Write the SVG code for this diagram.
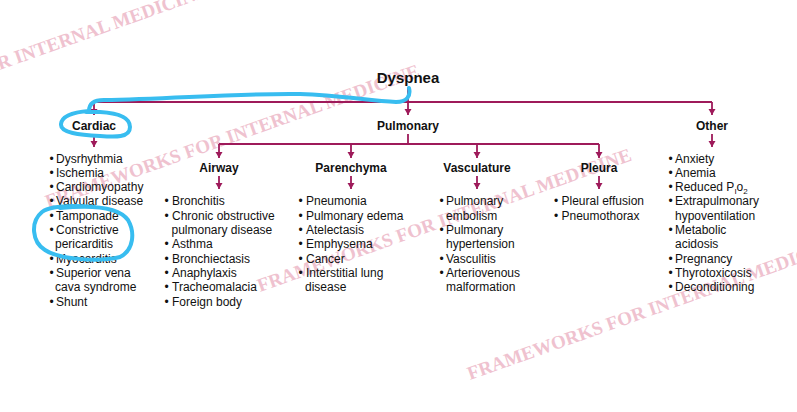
<svg xmlns="http://www.w3.org/2000/svg" width="797" height="412" viewBox="0 0 797 412">
<style>
.wm{font-family:"Liberation Serif","Times New Roman",serif;font-weight:bold;font-size:19px;fill:#efc2cf}
.ln{fill:none;stroke:#9e1a5a;stroke-width:1.8}
.ar{fill:none;stroke:#9e1a5a;stroke-width:1.8;marker-end:url(#arr)}
.t{font-family:"Liberation Sans",Arial,sans-serif;font-size:12px;fill:#111}
.h{font-family:"Liberation Sans",Arial,sans-serif;font-size:12px;font-weight:bold;fill:#111;text-anchor:middle}
.ttl{font-family:"Liberation Sans",Arial,sans-serif;font-size:15px;font-weight:bold;fill:#111;text-anchor:middle}
.hl{fill:none;stroke:#38bdf0;stroke-width:4;stroke-linecap:round;stroke-linejoin:round}
</style>
<defs>
<marker id="arr" markerUnits="userSpaceOnUse" markerWidth="7" markerHeight="8" refX="6" refY="3.5" orient="auto">
<path d="M0,0 L6,3.5 L0,7 z" fill="#9e1a5a"/>
</marker>
</defs>
<rect width="797" height="412" fill="#fff"/>
<g id="watermark">
<text class="wm" x="-164" y="128" transform="rotate(-19.5 -164 128)">FRAMEWORKS FOR INTERNAL MEDICINE</text>
<text class="wm" x="48" y="208" transform="rotate(-19.5 48 208)">FRAMEWORKS FOR INTERNAL MEDICINE</text>
<text class="wm" x="260" y="292" transform="rotate(-19.5 260 292)">FRAMEWORKS FOR INTERNAL MEDICINE</text>
<text class="wm" x="470" y="380" transform="rotate(-19.5 470 380)">FRAMEWORKS FOR INTERNAL MEDICINE</text>
</g>
<g id="connectors">
<line class="ln" x1="408" y1="88" x2="408" y2="102"/>
<line class="ln" x1="94" y1="102" x2="712" y2="102"/>
<line class="ar" x1="94" y1="102" x2="94" y2="115"/>
<line class="ar" x1="408" y1="102" x2="408" y2="115"/>
<line class="ar" x1="712" y1="102" x2="712" y2="115"/>
<line class="ar" x1="94" y1="134" x2="94" y2="147"/>
<line class="ar" x1="712" y1="134" x2="712" y2="147"/>
<line class="ln" x1="408" y1="134" x2="408" y2="144"/>
<line class="ln" x1="219" y1="144" x2="599" y2="144"/>
<line class="ar" x1="219" y1="144" x2="219" y2="158"/>
<line class="ar" x1="351" y1="144" x2="351" y2="158"/>
<line class="ar" x1="477" y1="144" x2="477" y2="158"/>
<line class="ar" x1="599" y1="144" x2="599" y2="158"/>
<line class="ar" x1="219" y1="176" x2="219" y2="189"/>
<line class="ar" x1="351" y1="176" x2="351" y2="189"/>
<line class="ar" x1="477" y1="176" x2="477" y2="189"/>
<line class="ar" x1="599" y1="176" x2="599" y2="189"/>
</g>
<g id="dyspnea"><text class="ttl" x="408" y="83">Dyspnea</text></g>
<g id="cardiac"><text class="h" x="94" y="130">Cardiac</text></g>
<g id="pulmonary"><text class="h" x="408" y="130">Pulmonary</text></g>
<g id="other"><text class="h" x="712" y="130">Other</text></g>
<g id="airway"><text class="h" x="219" y="172">Airway</text></g>
<g id="parenchyma"><text class="h" x="351" y="172">Parenchyma</text></g>
<g id="vasculature"><text class="h" x="477" y="172">Vasculature</text></g>
<g id="pleura"><text class="h" x="599" y="172">Pleura</text></g>
<g id="cardiac-list" class="t">
<text class="t" x="49.5" y="162.5">•</text><text class="t" x="56" y="162.5">Dysrhythmia</text>
<text class="t" x="49.5" y="176.8">•</text><text class="t" x="56" y="176.8">Ischemia</text>
<text class="t" x="49.5" y="191.1">•</text><text class="t" x="56" y="191.1">Cardiomyopathy</text>
<text class="t" x="49.5" y="205.4">•</text><text class="t" x="56" y="205.4">Valvular disease</text>
<text class="t" x="49.5" y="219.7">•</text><text class="t" x="56" y="219.7">Tamponade</text>
<text class="t" x="49.5" y="234">•</text><text class="t" x="56" y="234">Constrictive</text>
<text class="t" x="55" y="248.3">pericarditis</text>
<text class="t" x="49.5" y="262.6">•</text><text class="t" x="56" y="262.6">Myocarditis</text>
<text class="t" x="49.5" y="276.9">•</text><text class="t" x="56" y="276.9">Superior vena</text>
<text class="t" x="55" y="291.2">cava syndrome</text>
<text class="t" x="49.5" y="305.5">•</text><text class="t" x="56" y="305.5">Shunt</text>
</g>
<g id="airway-list">
<text class="t" x="164.5" y="205.4">•</text><text class="t" x="172" y="205.4">Bronchitis</text>
<text class="t" x="164.5" y="219.7">•</text><text class="t" x="172" y="219.7">Chronic obstructive</text>
<text class="t" x="171.5" y="234">pulmonary disease</text>
<text class="t" x="164.5" y="248.3">•</text><text class="t" x="172" y="248.3">Asthma</text>
<text class="t" x="164.5" y="262.6">•</text><text class="t" x="172" y="262.6">Bronchiectasis</text>
<text class="t" x="164.5" y="276.9">•</text><text class="t" x="172" y="276.9">Anaphylaxis</text>
<text class="t" x="164.5" y="291.2">•</text><text class="t" x="172" y="291.2">Tracheomalacia</text>
<text class="t" x="164.5" y="305.5">•</text><text class="t" x="172" y="305.5">Foreign body</text>
</g>
<g id="parenchyma-list">
<text class="t" x="298.5" y="205.4">•</text><text class="t" x="306" y="205.4">Pneumonia</text>
<text class="t" x="298.5" y="219.7">•</text><text class="t" x="306" y="219.7">Pulmonary edema</text>
<text class="t" x="298.5" y="234">•</text><text class="t" x="306" y="234">Atelectasis</text>
<text class="t" x="298.5" y="248.3">•</text><text class="t" x="306" y="248.3">Emphysema</text>
<text class="t" x="298.5" y="262.6">•</text><text class="t" x="306" y="262.6">Cancer</text>
<text class="t" x="298.5" y="276.9">•</text><text class="t" x="306" y="276.9">Interstitial lung</text>
<text class="t" x="305" y="291.2">disease</text>
</g>
<g id="vasculature-list">
<text class="t" x="439.5" y="205.4">•</text><text class="t" x="446" y="205.4">Pulmonary</text>
<text class="t" x="446" y="219.7">embolism</text>
<text class="t" x="439.5" y="234">•</text><text class="t" x="446" y="234">Pulmonary</text>
<text class="t" x="446" y="248.3">hypertension</text>
<text class="t" x="439.5" y="262.6">•</text><text class="t" x="446" y="262.6">Vasculitis</text>
<text class="t" x="439.5" y="276.9">•</text><text class="t" x="446" y="276.9">Arteriovenous</text>
<text class="t" x="446" y="291.2">malformation</text>
</g>
<g id="pleura-list">
<text class="t" x="554" y="205.4">•</text><text class="t" x="561.5" y="205.4">Pleural effusion</text>
<text class="t" x="554" y="219.7">•</text><text class="t" x="561.5" y="219.7">Pneumothorax</text>
</g>
<g id="other-list">
<text class="t" x="668.5" y="162.5">•</text><text class="t" x="675" y="162.5">Anxiety</text>
<text class="t" x="668.5" y="176.8">•</text><text class="t" x="675" y="176.8">Anemia</text>
<text class="t" x="668.5" y="191.1">•</text><text class="t" x="675" y="191.1">Reduced P<tspan font-size="8" dy="3">I</tspan><tspan dy="-3">o</tspan><tspan font-size="8" dy="3">2</tspan></text>
<text class="t" x="668.5" y="205.4">•</text><text class="t" x="675" y="205.4">Extrapulmonary</text>
<text class="t" x="675" y="219.7">hypoventilation</text>
<text class="t" x="668.5" y="234">•</text><text class="t" x="675" y="234">Metabolic</text>
<text class="t" x="675" y="248.3">acidosis</text>
<text class="t" x="668.5" y="262.6">•</text><text class="t" x="675" y="262.6">Pregnancy</text>
<text class="t" x="668.5" y="276.9">•</text><text class="t" x="675" y="276.9">Thyrotoxicosis</text>
<text class="t" x="668.5" y="291.2">•</text><text class="t" x="675" y="291.2">Deconditioning</text>
</g>
<g id="highlights">
<path class="hl" d="M409 88 C411 96 407 102 396 102 C370 101 340 95 300 94 C240 93 170 99 104 100 C93 100 89 104 89 111 C75 112 62 115 61 124 C60 133 80 135 100 136 C115 137 130 138 130 127 C130 117 118 113 100 112 L86 112"/>
<path class="hl" d="M60 208 C90 205 118 206 128 220 C135 232 134 250 120 257 C100 262 60 260 45 250 C32 242 30 222 42 212 C50 206 70 205 95 207"/>
</g>
</svg>
